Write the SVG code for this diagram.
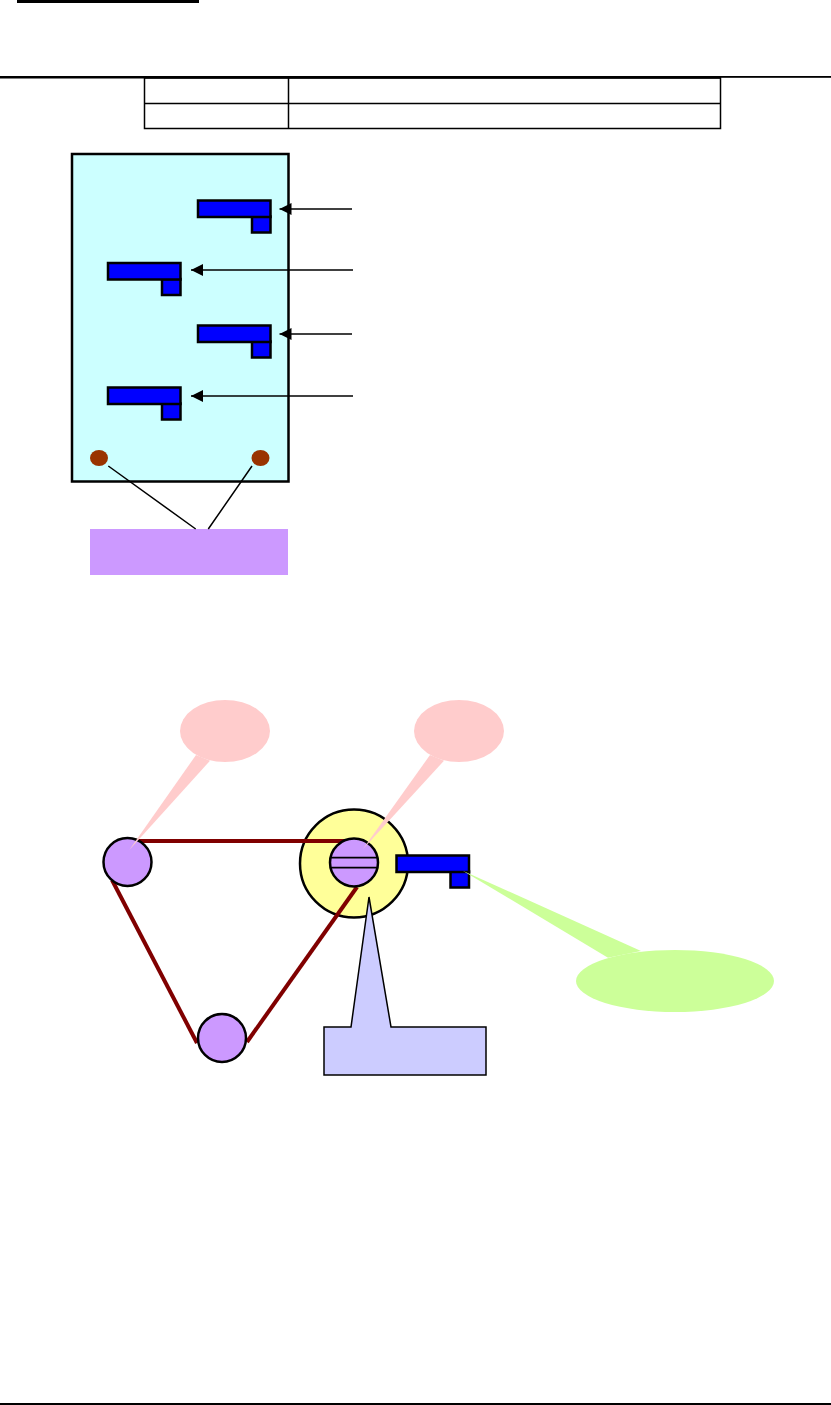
<svg xmlns="http://www.w3.org/2000/svg" width="831" height="1405" viewBox="0 0 831 1405">
<style>
.thin{fill:none;stroke:#000;stroke-width:1.5}
.leader{fill:none;stroke:#000;stroke-width:1.5}
.blue{fill:#0000ff;stroke:#000;stroke-width:2.500}
.purple{fill:#cc99ff;stroke:#000;stroke-width:2.500}
.belt{fill:none;stroke:#800000;stroke-width:4}
.pink{fill:#ffcccc}
</style>
<defs>
<g id="part"><rect class="blue" x="54" y="16" width="18.500" height="16"/><rect class="blue" x="0" y="0" width="72.500" height="16.500"/></g>
<marker id="ah" markerUnits="userSpaceOnUse" markerWidth="12" markerHeight="12" refX="12" refY="6" orient="auto"><path d="M0 6L12 0V12Z" fill="#000" transform="translate(12 12) rotate(180)"/></marker>
</defs>
<g id="page-rules"><rect x="17" y="0" width="182" height="3"/><rect x="0" y="76" width="721" height="2.500"/><rect x="721" y="76" width="110" height="1.800"/><rect x="0" y="1403" width="831" height="2"/></g>
<g id="table"><rect class="thin" x="144.500" y="78" width="576" height="50.500"/><path class="thin" d="M144.500 103.500H720.500M288.500 78V128.500"/></g>
<g id="panel"><rect x="72" y="154" width="216.500" height="327.500" fill="#ccffff" stroke="#000" stroke-width="2.500"/></g>
<g id="part-1"><use href="#part" x="198" y="200.500"/></g>
<g id="part-2"><use href="#part" x="108" y="263"/></g>
<g id="part-3"><use href="#part" x="198" y="325.500"/></g>
<g id="part-4"><use href="#part" x="108" y="387.500"/></g>
<g id="pin-left"><ellipse cx="99" cy="458" rx="9" ry="8" fill="#993300"/></g>
<g id="pin-right"><ellipse cx="260.500" cy="458" rx="9" ry="8" fill="#993300"/></g>
<g id="pin-label"><rect x="90" y="529" width="198" height="46" fill="#cc99ff"/></g>
<g id="wheel-large"><circle cx="354" cy="863.500" r="54" fill="#ffff99" stroke="#000" stroke-width="2.500"/></g>
<g id="connectors">
<path class="leader" marker-end="url(#ah)" d="M352 209H279.500"/>
<path class="leader" marker-end="url(#ah)" d="M353 270H191"/>
<path class="leader" marker-end="url(#ah)" d="M352 334H279.500"/>
<path class="leader" marker-end="url(#ah)" d="M353 396H191"/>
<path class="leader" d="M108.300 466L195.700 529M252 466L208.300 529"/>
<path class="belt" d="M138 841H355"/>
<path class="belt" d="M112 880L197 1043"/>
<path class="belt" d="M247 1042L357 887"/>
</g>
<g id="wheel-left"><circle class="purple" cx="127.500" cy="862" r="24"/></g>
<g id="wheel-bottom"><circle class="purple" cx="222" cy="1038" r="24"/></g>
<g id="wheel-inner"><circle class="purple" cx="354" cy="862.500" r="24"/><path d="M331 857.700H378M331 867.700H378" stroke="#000" stroke-width="1.800" fill="none"/></g>
<g id="part-5"><use href="#part" x="396.500" y="855.500"/></g>
<g id="callout-left"><path class="pink" d="M196 755L129.300 850L210 760.700Z"/><ellipse class="pink" cx="225" cy="731" rx="45" ry="31"/></g>
<g id="callout-right"><path class="pink" d="M430 755L363 849L444 760.700Z"/><ellipse class="pink" cx="459" cy="731" rx="45" ry="31"/></g>
<g id="callout-box"><path d="M324 1027H351L369 897L391 1027H486V1075H324Z" fill="#ccccff" stroke="#000" stroke-width="1.500"/></g>
<g id="callout-green"><path d="M608 957.700L462.700 870.700L641 951Z" fill="#ccff99"/><ellipse cx="675" cy="981" rx="99" ry="31" fill="#ccff99"/></g>
</svg>
